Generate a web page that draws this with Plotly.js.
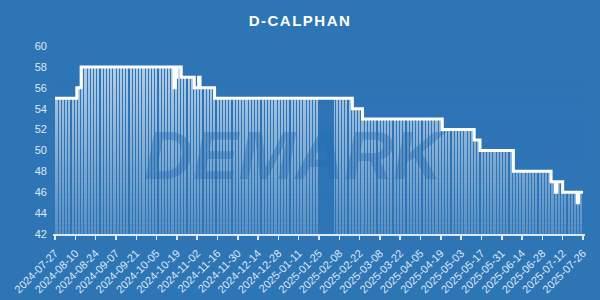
<!DOCTYPE html>
<html>
<head>
<meta charset="utf-8">
<script src="https://cdn.plot.ly/plotly-3.0.1.min.js"></script>
<style>
html,body{margin:0;padding:0;background:#2E75B6;}
#chart{width:600px;height:300px;}
#chart .gtitle{letter-spacing:1.5px;}
</style>
</head>
<body>
<div id="chart"></div>
<script>
// Price change points (value holds until next change)
const changeDates = ['2024-07-27','2024-08-11','2024-08-14','2024-10-17','2024-10-18','2024-10-19','2024-10-22','2024-10-31','2024-11-03','2024-11-04','2024-11-14','2025-02-17','2025-02-24','2025-04-20','2025-05-12','2025-05-16','2025-06-08','2025-07-04','2025-07-07','2025-07-08','2025-07-12','2025-07-22','2025-07-23'];
const changeValues = [55,56,58,56,57,58,57,56,57,56,55,54,53,52,51,50,48,47,46,47,46,45,46];
const endDate = '2025-07-26';
// days with no quotes (Spring Festival)
const gapStart = '2025-01-25';
const gapEnd = '2025-02-04';
const yTicks = [42,44,46,48,50,52,54,56,58,60];
const title = 'D-CALPHAN';

const DAY = 86400000;
function ts(s){return Date.parse(s+'T00:00:00Z');}
function fmt(t){return new Date(t).toISOString().slice(0,10);}

// daily quotes (step series)
const barX = [], barY = [];
let ci = 0;
for (let t = ts(changeDates[0]); t <= ts(endDate); t += DAY) {
  while (ci+1 < changeDates.length && ts(changeDates[ci+1]) <= t) ci++;
  if (t >= ts(gapStart) && t <= ts(gapEnd)) continue;
  barX.push(fmt(t)); barY.push(changeValues[ci]);
}
const lineX = changeDates.concat([endDate]);
const lineY = changeValues.concat([changeValues[changeValues.length-1]]);

const xStart = '2024-07-25 14:24';
const xEnd = '2025-07-27 09:36';
const bg = '#2E75B6';
const tickCol = '#dce8f5';

const traces = [
  {type:'bar', x:barX, y:barY, width:0.65*DAY,
   marker:{color:'rgba(255,255,255,0.62)', line:{width:0}}, hoverinfo:'skip'}
];
// fading overlay (bars fade towards the bottom), built as thin bands
const nb = 36;
for (let k = 0; k < nb; k++) {
  const y0 = 42 + k*0.5, y1 = y0 + 0.5;
  const a = Math.max(0, 0.7*(1 - (k+0.5)/30));
  if (a <= 0) continue;
  traces.push({type:'scatter', mode:'none', x:[xStart, xEnd, xEnd, xStart], y:[y0,y0,y1,y1],
    fill:'toself', fillcolor:'rgba(46,117,182,'+a.toFixed(3)+')', hoverinfo:'skip'});
}
traces.push({type:'scatter', mode:'lines', x:lineX, y:lineY,
   line:{color:'#ffffff', width:3, shape:'hv'}});

const layout = {
  width:600, height:300,
  paper_bgcolor:bg, plot_bgcolor:bg,
  showlegend:false,
  bargap:0,
  margin:{l:53, r:15, t:46, b:66},
  title:{text:title, x:0.5, xanchor:'center', y:0.93, yanchor:'middle', yref:'container',
    font:{family:'Arial, Liberation Sans, sans-serif', size:15, color:'#ffffff', weight:'bold'}},
  xaxis:{type:'date', range:[xStart, xEnd], tick0:'2024-07-27', dtick:14*DAY,
    tickformat:'%Y-%m-%d', tickangle:-45, showgrid:false, zeroline:false,
    showline:true, linecolor:tickCol, linewidth:1.5,
    ticks:'outside', ticklen:4, tickcolor:tickCol, tickwidth:1.5, ticklabelstandoff:3,
    tickfont:{family:'Arial, Liberation Sans, sans-serif', size:11, color:tickCol}},
  yaxis:{range:[42,60], tickvals:yTicks, showgrid:false, zeroline:false, showline:false,
    ticks:'', ticklabelstandoff:5,
    tickfont:{family:'Arial, Liberation Sans, sans-serif', size:11, color:tickCol}},
  annotations:[{text:'<i><b>DEMARK</b></i>', xref:'paper', yref:'paper', x:0.455, y:0.42,
    showarrow:false, xanchor:'center', yanchor:'middle',
    font:{family:'Arial, Liberation Sans, sans-serif', size:68, color:'rgba(38,108,178,0.42)'}}]
};

Plotly.newPlot('chart', traces, layout, {displayModeBar:false, staticPlot:true});
</script>
</body>
</html>
